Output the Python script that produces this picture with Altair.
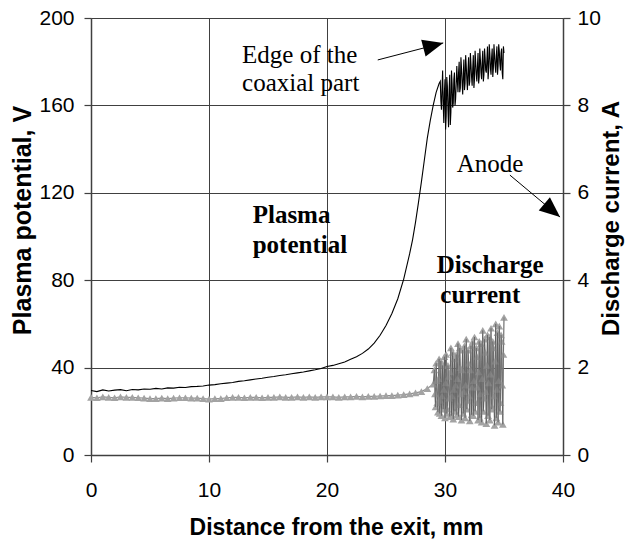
import math
import altair as alt
import pandas as pd

# ---------------- data ----------------
# Plasma potential, V (left axis) vs distance from the exit, mm -- smooth part
pot_x_smooth = [0, 0.5, 1, 1.5, 2, 2.5, 3, 3.5, 4, 4.5, 5, 5.5, 6, 6.5, 7, 7.5, 8, 8.5, 9, 9.5,
                10, 10.5, 11, 11.5, 12, 12.5, 13, 13.5, 14, 14.5, 15, 15.5, 16, 16.5, 17, 17.5,
                18, 18.5, 19, 19.5, 20, 20.5, 21, 21.5, 22, 22.5, 23, 23.5, 24, 24.5, 25, 25.5,
                26, 26.5, 27, 27.25, 27.5, 27.75, 28, 28.25, 28.5, 28.75, 29, 29.25, 29.5]
pot_v_smooth = [29.5, 29.0, 29.8, 29.3, 29.7, 29.9, 29.4, 30.0, 29.8, 30.2, 30.1, 30.5, 30.2, 30.7,
                30.6, 31.0, 30.9, 31.3, 31.4, 31.6, 32.0, 32.2, 32.6, 32.9, 33.2, 33.7, 34.0, 34.4,
                34.8, 35.1, 35.6, 35.9, 36.4, 36.7, 37.2, 37.6, 38.0, 38.5, 39.0, 39.6, 40.5, 41.0,
                41.8, 42.6, 43.8, 45.0, 46.5, 48.5, 51.2, 54.8, 59.3, 64.8, 71.5, 80.5, 92.0, 98.5,
                106.5, 115.5, 125.0, 135.0, 145.0, 153.0, 160.0, 166.0, 170.0]
# noisy part near the coaxial edge
pot_x_noise = [29.6, 29.65, 29.7, 29.75, 29.8, 29.85, 29.9, 29.95,
               30.0, 30.05, 30.1, 30.15, 30.2, 30.25, 30.3, 30.35, 30.4, 30.45,
               30.5, 30.55, 30.6, 30.65, 30.7, 30.75, 30.8, 30.85, 30.9, 30.95,
               31.0, 31.05, 31.1, 31.15, 31.2, 31.25, 31.3, 31.35, 31.4, 31.45,
               31.5, 31.55, 31.6, 31.65, 31.7, 31.75, 31.8, 31.85, 31.9, 31.95,
               32.0, 32.05, 32.1, 32.15, 32.2, 32.25, 32.3, 32.35, 32.4, 32.45,
               32.5, 32.55, 32.6, 32.65, 32.7, 32.75, 32.8, 32.85, 32.9, 32.95,
               33.0, 33.05, 33.1, 33.15, 33.2, 33.25, 33.3, 33.35, 33.4, 33.45,
               33.5, 33.55, 33.6, 33.65, 33.7, 33.75, 33.8, 33.85, 33.9, 33.95,
               34.0, 34.05, 34.1, 34.15, 34.2, 34.25, 34.3, 34.35, 34.4, 34.45,
               34.5, 34.55, 34.6, 34.65, 34.7, 34.75, 34.8, 34.85, 34.9, 34.95, 35.0]
pot_v_noise = [171, 162, 158, 168, 176, 160, 152, 166,
               172, 149, 155, 173, 169, 158, 150, 167, 174, 151,
               157, 176, 170, 159, 161, 172, 175, 160, 163, 170,
               178, 171, 166, 175, 180, 166, 168, 182, 177, 170,
               165, 174, 181, 167, 170, 183, 178, 172, 167, 176,
               182, 169, 171, 184, 179, 173, 169, 177, 183, 168,
               172, 185, 180, 174, 171, 178, 184, 170, 173, 186,
               181, 175, 172, 180, 185, 171, 174, 186, 182, 176,
               175, 181, 187, 172, 176, 188, 184, 177, 174, 182,
               186, 173, 177, 188, 183, 178, 175, 183, 187, 174,
               178, 188, 185, 179, 176, 184, 186, 175, 172, 187, 184]

# Discharge current, A (right axis) -- smooth part
cur_x_smooth = [0, 0.5, 1, 1.5, 2, 2.5, 3, 3.5, 4, 4.5, 5, 5.5, 6, 6.5, 7, 7.5, 8, 8.5, 9, 9.5,
                10, 10.5, 11, 11.5, 12, 12.5, 13, 13.5, 14, 14.5, 15, 15.5, 16, 16.5, 17, 17.5,
                18, 18.5, 19, 19.5, 20, 20.5, 21, 21.5, 22, 22.5, 23, 23.5, 24, 24.5, 25, 25.5,
                26, 26.5, 27, 27.5, 28, 28.5, 29]
cur_v_smooth = [1.32, 1.31, 1.33, 1.32, 1.31, 1.33, 1.32, 1.32, 1.31, 1.30, 1.29, 1.29, 1.30, 1.29,
                1.30, 1.31, 1.31, 1.30, 1.30, 1.29, 1.28, 1.29, 1.29, 1.31, 1.32, 1.32, 1.31, 1.32,
                1.32, 1.31, 1.32, 1.32, 1.33, 1.32, 1.32, 1.33, 1.32, 1.33, 1.32, 1.33, 1.33, 1.33,
                1.32, 1.33, 1.33, 1.34, 1.33, 1.34, 1.34, 1.35, 1.36, 1.36, 1.37, 1.38, 1.40, 1.42,
                1.45, 1.52, 1.62]
# noisy part
cur_x_noise = [29.1, 29.15, 29.2, 29.25, 29.3, 29.35, 29.4, 29.45, 29.5, 29.55,
               29.6, 29.65, 29.7, 29.75, 29.8, 29.85, 29.9, 29.95,
               30.0, 30.05, 30.1, 30.15, 30.2, 30.25, 30.3, 30.35, 30.4, 30.45,
               30.5, 30.55, 30.6, 30.65, 30.7, 30.75, 30.8, 30.85, 30.9, 30.95,
               31.0, 31.05, 31.1, 31.15, 31.2, 31.25, 31.3, 31.35, 31.4, 31.45,
               31.5, 31.55, 31.6, 31.65, 31.7, 31.75, 31.8, 31.85, 31.9, 31.95,
               32.0, 32.05, 32.1, 32.15, 32.2, 32.25, 32.3, 32.35, 32.4, 32.45,
               32.5, 32.55, 32.6, 32.65, 32.7, 32.75, 32.8, 32.85, 32.9, 32.95,
               33.0, 33.05, 33.1, 33.15, 33.2, 33.25, 33.3, 33.35, 33.4, 33.45,
               33.5, 33.55, 33.6, 33.65, 33.7, 33.75, 33.8, 33.85, 33.9, 33.95,
               34.0, 34.05, 34.1, 34.15, 34.2, 34.25, 34.3, 34.35, 34.4, 34.45,
               34.5, 34.55, 34.6, 34.65, 34.7, 34.75, 34.8, 34.85, 34.9, 34.95, 35.0]
cur_v_noise = [1.95, 1.40, 1.10, 2.10, 1.70, 1.20, 0.98, 1.75, 2.20, 0.95,
               1.25, 2.15, 0.90, 1.35, 2.05, 1.05, 1.50, 2.25,
               0.85, 1.65, 2.30, 0.95, 1.05, 2.05, 1.80, 1.30, 0.88, 1.90,
               2.45, 0.90, 1.35, 2.35, 0.82, 1.50, 2.20, 1.00, 1.60, 2.30,
               0.92, 1.75, 2.55, 0.88, 1.15, 2.45, 2.00, 1.40, 0.80, 1.95,
               2.40, 0.95, 1.45, 2.50, 0.85, 1.60, 2.65, 1.05, 1.25, 2.40,
               2.10, 1.35, 0.78, 1.95, 2.50, 0.92, 1.55, 2.60, 0.90, 1.70,
               2.70, 1.00, 1.20, 2.45, 2.25, 1.55, 0.80, 1.90, 2.60, 0.85,
               1.40, 2.55, 0.75, 1.75, 2.85, 1.00, 1.30, 2.65, 2.35, 1.45,
               0.72, 2.05, 2.75, 0.90, 1.65, 2.70, 0.80, 1.85, 2.90, 1.05,
               1.10, 2.60, 2.45, 1.35, 0.68, 2.15, 3.00, 0.85, 1.50, 2.80,
               0.75, 1.70, 2.95, 1.00, 1.20, 2.75, 2.60, 1.60, 0.70, 2.30, 3.15]

# annotation texts (position in data units of the left axis)
note_text = ["Edge of the", "coaxial part", "Anode"]
note_x = [12.8, 12.8, 31.0]
note_y = [179.4, 166.6, 129.5]

label_text = ["Plasma", "potential", "Discharge", "current"]
label_x = [13.7, 13.7, 29.3, 29.6]
label_y = [106.2, 92.4, 83.3, 69.6]

# arrows: tail -> tip (data units of the left axis)
arrow_x = [24.3, 35.5]
arrow_y = [180.8, 128.1]
arrow_x2 = [29.85, 39.75]
arrow_y2 = [188.6, 108.9]

# ---------------- chart ----------------
W, H = 472, 437
XMAX, YMAX = 40, 200

pot_df = pd.DataFrame({"x": pot_x_smooth + pot_x_noise, "v": pot_v_smooth + pot_v_noise})
cur_df = pd.DataFrame({"x": cur_x_smooth + cur_x_noise, "v": cur_v_smooth + cur_v_noise})
note_df = pd.DataFrame({"t": note_text, "x": note_x, "y": note_y})
label_df = pd.DataFrame({"t": label_text, "x": label_x, "y": label_y})
angles = []
for x1, y1, x2, y2 in zip(arrow_x, arrow_y, arrow_x2, arrow_y2):
    dx = (x2 - x1) * W / XMAX
    dy = -(y2 - y1) * H / YMAX
    angles.append(math.degrees(math.atan2(dy, dx)) % 360)
arrow_df = pd.DataFrame({"x": arrow_x, "y": arrow_y, "x2": arrow_x2, "y2": arrow_y2, "a": angles})

SANS = "Liberation Sans"
SERIF = "Liberation Serif"
LINE = "#404040"

x_scale = alt.Scale(domain=[0, XMAX], nice=False, zero=False)
yl_scale = alt.Scale(domain=[0, YMAX], nice=False)
yr_scale = alt.Scale(domain=[0, 10], nice=False)

x_axis = alt.Axis(values=[0, 10, 20, 30, 40], title="Distance from the exit, mm",
                  grid=True, gridColor=LINE, gridWidth=1, domainColor=LINE, domainWidth=1.5,
                  tickColor=LINE, tickSize=7, tickWidth=1.2, labelFont=SANS, labelFontSize=21,
                  labelColor="black", labelBaseline="alphabetic", labelPadding=34,
                  labelFlush=False,
                  titleFont=SANS, titleFontSize=23, titleFontWeight="bold", titleColor="black",
                  titleX=245, titleY=79, titleBaseline="alphabetic", titleAnchor="middle")
yl_axis = alt.Axis(values=[0, 40, 80, 120, 160, 200], title="Plasma potential, V",
                   grid=True, gridColor=LINE, gridWidth=1, domainColor=LINE, domainWidth=1.5,
                   tickColor=LINE, tickSize=7, tickWidth=1.2, labelFont=SANS, labelFontSize=21,
                   labelColor="black", labelPadding=10, labelFlush=False,
                   titleFont=SANS, titleFontSize=25, titleFontWeight="bold", titleColor="black",
                   titleAngle=270, titleBaseline="middle", titleAlign="center",
                   titleX=-69, titleY=202)
yr_axis = alt.Axis(values=[0, 2, 4, 6, 8, 10], title="Discharge current, A", orient="right",
                   grid=False, domainColor=LINE, domainWidth=1.5, labelFlush=False,
                   tickColor=LINE, tickSize=7, tickWidth=1.2, labelFont=SANS, labelFontSize=21,
                   labelColor="black", labelPadding=7,
                   titleFont=SANS, titleFontSize=24, titleFontWeight="bold", titleColor="black",
                   titleAngle=270, titleBaseline="middle", titleAlign="center",
                   titleX=48, titleY=200)

XE = alt.X("x:Q", scale=x_scale, axis=x_axis)

pot_line = alt.Chart(pot_df).mark_line(color="black", strokeWidth=1.1).encode(
    x=XE, y=alt.Y("v:Q", scale=yl_scale, axis=yl_axis))

notes = alt.Chart(note_df).mark_text(font=SERIF, fontSize=25, align="left",
                                      baseline="alphabetic", color="black").encode(
    x=XE, y=alt.Y("y:Q", scale=yl_scale, axis=yl_axis), text="t:N")
labels = alt.Chart(label_df).mark_text(font=SERIF, fontSize=25, fontWeight="bold", align="left",
                                        baseline="alphabetic", color="black").encode(
    x=XE, y=alt.Y("y:Q", scale=yl_scale, axis=yl_axis), text="t:N")
arrow_lines = alt.Chart(arrow_df).mark_rule(color="black", strokeWidth=1).encode(
    x=XE, y=alt.Y("y:Q", scale=yl_scale, axis=yl_axis), x2="x2:Q", y2="y2:Q")
arrow_heads = alt.Chart(arrow_df).mark_point(
    shape="M0,0L-2,-0.85L-2,0.85Z", filled=True, color="black", opacity=1, size=420).encode(
    x=alt.X("x2:Q", scale=x_scale, axis=x_axis),
    y=alt.Y("y2:Q", scale=yl_scale, axis=yl_axis),
    angle=alt.Angle("a:Q", scale=None))

left = alt.layer(pot_line, arrow_lines, arrow_heads, notes, labels)

YR = alt.Y("v:Q", scale=yr_scale, axis=yr_axis)
cur_line = alt.Chart(cur_df).mark_line(color="#8f8f8f", strokeWidth=1.2).encode(x=XE, y=YR)
cur_pts = alt.Chart(cur_df).mark_point(shape="triangle-up", filled=True, color="#a3a3a3",
                                       opacity=1, size=60).encode(x=XE, y=YR)
cur_dark = alt.Chart(cur_df).transform_filter(alt.datum.x >= 29).mark_line(
    color="black", strokeWidth=0.6, opacity=0.35).encode(x=XE, y=YR)

right = alt.layer(cur_line, cur_pts, cur_dark)

chart = alt.layer(left, right).resolve_scale(y="independent").properties(
    width=W, height=H,
    padding={"left": 91, "top": 18, "right": 63, "bottom": 85},
    autosize=alt.AutoSizeParams(type="none"),
    background="white",
).configure_view(stroke=None)

chart.save("out.html", embed_options={"renderer": "svg", "actions": False})
